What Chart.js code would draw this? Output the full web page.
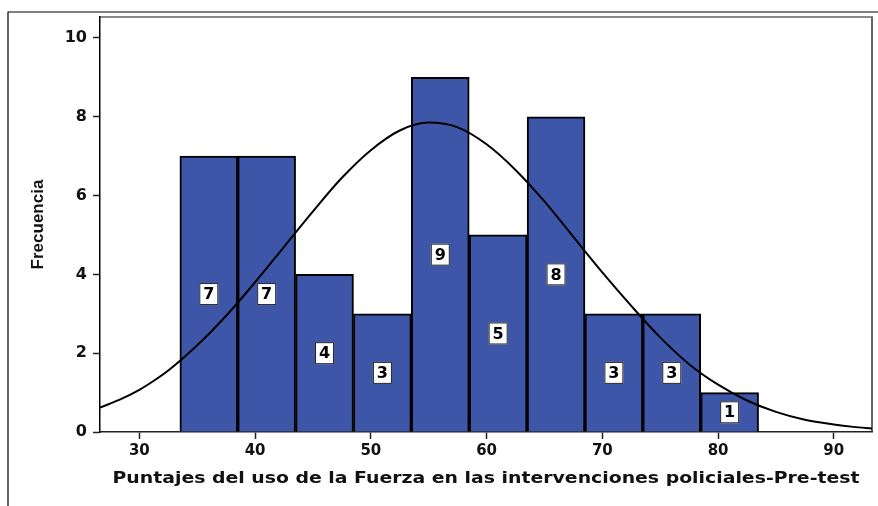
<!DOCTYPE html>
<html>
<head>
<meta charset="utf-8">
<script src="https://cdn.jsdelivr.net/npm/chart.js@4.4.1/dist/chart.umd.min.js"></script>
<style>
  html, body { margin: 0; padding: 0; background: #fff; }
  #wrap { width: 878px; height: 506px; position: relative; }
</style>
</head>
<body>
<div id="wrap"><canvas id="histCanvas" width="878" height="506"></canvas></div>
<script>
// bins (centre of each 5-point interval) and counts
const binCenters = [36, 41, 46, 51, 56, 61, 66, 71, 76, 81];
const counts = [7, 7, 4, 3, 9, 5, 8, 3, 3, 1];

// normal curve
const curveX = [26.6, 28.3, 30, 31.25, 32.5, 35, 37.5, 40, 42.5, 45, 47.5, 50, 52.5, 55, 57.5, 60, 62.5, 65, 67.5, 70, 72.5, 75, 77.5, 80, 82.5, 85, 87.5, 90, 91.7, 93.3];
const curveY = [0.62, 0.82, 1.07, 1.3, 1.56, 2.2, 2.95, 3.8, 4.7, 5.6, 6.45, 7.15, 7.65, 7.85, 7.73, 7.3, 6.65, 5.85, 4.95, 4.05, 3.2, 2.4, 1.72, 1.2, 0.8, 0.51, 0.31, 0.19, 0.13, 0.09];

const xTicks = [30, 40, 50, 60, 70, 80, 90];
const yTicks = [0, 2, 4, 6, 8, 10];

const xTitle = 'Puntajes del uso de la Fuerza en las intervenciones policiales-Pre-test';
const yTitle = 'Frecuencia';

const BAR_BLUE = '#3E56A8';

// frame lines around the figure and the plot box
const framePlugin = {
    id: 'frame',
    beforeDraw(chart) {
        const ctx = chart.ctx;
        const a = chart.chartArea;
        ctx.save();
        ctx.strokeStyle = '#000';
        ctx.lineWidth = 1.2;
        ctx.beginPath();
        ctx.moveTo(8, chart.height);
        ctx.lineTo(8, 12);
        ctx.lineTo(chart.width, 12);
        ctx.stroke();

        ctx.strokeStyle = '#8a8a8a';
        ctx.lineWidth = 2;
        ctx.beginPath();
        ctx.moveTo(a.left, a.top);
        ctx.lineTo(a.right + 1, a.top);
        ctx.stroke();
        ctx.strokeStyle = '#666';
        ctx.beginPath();
        ctx.moveTo(a.right, a.top);
        ctx.lineTo(a.right, a.bottom);
        ctx.stroke();
        ctx.restore();
    }
};

// x title, stretched sideways like the original export
const xTitlePlugin = {
    id: 'xTitle',
    afterDraw(chart) {
        const ctx = chart.ctx;
        const a = chart.chartArea;
        ctx.save();
        ctx.font = 'bold 15.5px "DejaVu Sans"';
        ctx.fillStyle = '#111';
        ctx.textAlign = 'center';
        ctx.textBaseline = 'alphabetic';
        const w = ctx.measureText(xTitle).width;
        const sx = 747 / w;
        ctx.translate((a.left + a.right) / 2, 483);
        ctx.scale(sx, 1);
        ctx.fillText(xTitle, 0, 0);
        ctx.restore();
    }
};

// count boxes in the middle of each bar
const countLabels = {
    id: 'countLabels',
    afterDatasetDraw(chart, args) {
        if (args.index !== 0) return;
        const ctx = chart.ctx;
        const yScale = chart.scales.y;
        const meta = chart.getDatasetMeta(0);
        ctx.save();
        ctx.font = 'bold 16px "DejaVu Sans"';
        ctx.textAlign = 'center';
        ctx.textBaseline = 'middle';
        meta.data.forEach((bar, i) => {
            const cy = yScale.getPixelForValue(counts[i] / 2);
            const w = 19, h = 22;
            ctx.fillStyle = '#fff';
            ctx.fillRect(bar.x - w / 2, cy - h / 2, w, h);
            ctx.strokeStyle = '#222';
            ctx.lineWidth = 1;
            ctx.strokeRect(bar.x - w / 2 + 0.5, cy - h / 2 + 0.5, w - 1, h - 1);
            ctx.fillStyle = '#000';
            ctx.fillText(String(counts[i]), bar.x, cy + 1);
        });
        ctx.restore();
    }
};

const ctx = document.getElementById('histCanvas');
new Chart(ctx, {
    type: 'bar',
    data: {
        datasets: [{
            type: 'bar',
            label: 'Frecuencia',
            data: binCenters.map((c, i) => ({ x: c, y: counts[i] })),
            backgroundColor: BAR_BLUE,
            borderColor: '#000',
            borderWidth: 2,
            barPercentage: 1,
            categoryPercentage: 1,
            order: 2
        }, {
            type: 'line',
            label: 'Normal',
            data: curveX.map((x, i) => ({ x: x, y: curveY[i] })),
            borderColor: '#000',
            borderWidth: 2,
            pointRadius: 0,
            cubicInterpolationMode: 'monotone',
            fill: false,
            order: 1
        }]
    },
    options: {
        responsive: false,
        animation: false,
        devicePixelRatio: 1,
        layout: { padding: { top: 17, right: 6, left: 0, bottom: 0 } },
        plugins: {
            legend: { display: false },
            tooltip: { enabled: false }
        },
        scales: {
            x: {
                type: 'linear',
                min: 26.6,
                max: 93.3,
                offset: false,
                afterBuildTicks: s => { s.ticks = xTicks.map(v => ({ value: v })); },
                afterFit: s => { s.height = 74; },
                grid: { offset: false, drawOnChartArea: false, drawTicks: true, tickLength: 7, tickColor: '#222', tickWidth: 1.5 },
                border: { color: '#222', width: 1.5 },
                ticks: { color: '#111', font: { family: '"DejaVu Sans"', size: 15, weight: 'bold' }, padding: 3, maxRotation: 0 },
                title: { display: false }
            },
            y: {
                min: 0,
                max: 10.53,
                afterBuildTicks: s => { s.ticks = yTicks.map(v => ({ value: v })); },
                afterFit: s => { s.width = 100; },
                grid: { drawOnChartArea: false, drawTicks: true, tickLength: 7, tickColor: '#222', tickWidth: 1.5 },
                border: { color: '#000', width: 1.5 },
                ticks: { color: '#111', font: { family: '"DejaVu Sans"', size: 16, weight: 'bold' }, padding: 6 },
                title: {
                    display: true,
                    text: yTitle,
                    color: '#111',
                    font: { family: '"Liberation Sans Narrow", "Arial Narrow", "Liberation Sans"', size: 17, weight: 'bold' },
                    padding: { top: 28, bottom: 0 }
                }
            }
        }
    },
    plugins: [framePlugin, countLabels, xTitlePlugin]
});
</script>
</body>
</html>
